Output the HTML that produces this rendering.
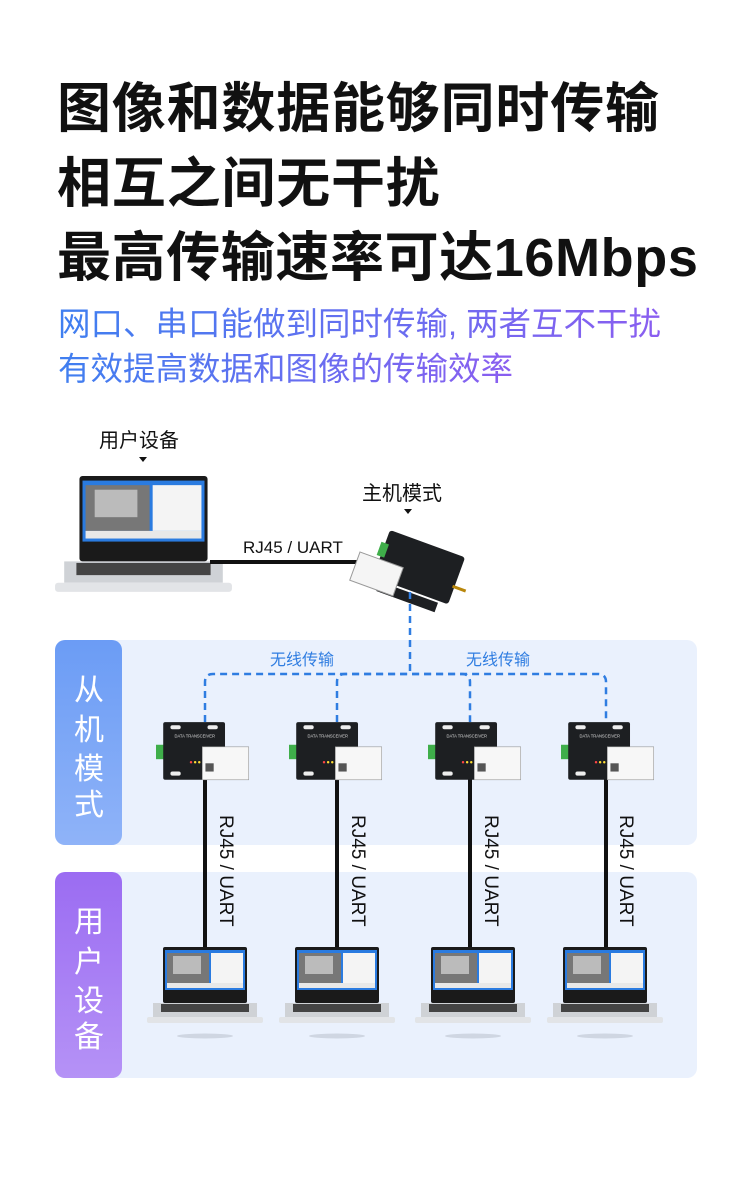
<!DOCTYPE html>
<html><head><meta charset="utf-8"><style>
body{margin:0;width:750px;height:1186px;background:#fff;position:relative;overflow:hidden;font-family:"Liberation Sans","Noto Sans CJK SC",sans-serif}
.t{position:absolute;left:57px;font-weight:bold;font-size:54px;color:#111;white-space:nowrap}
.s{position:absolute;left:58px;font-size:32.5px;white-space:nowrap;background:linear-gradient(90deg,#3f7ff0,#8a5ef0);-webkit-background-clip:text;color:transparent}
svg{position:absolute;left:0;top:0}
</style></head><body>
<div class="t" style="top:64px;letter-spacing:0.8px">图像和数据能够同时传输</div>
<div class="t" style="top:139px;letter-spacing:0.8px">相互之间无干扰</div>
<div class="t" style="top:213px;letter-spacing:0.6px">最高传输速率可达16Mbps</div>
<div class="s" style="top:298px">网口、串口能做到同时传输, 两者互不干扰</div>
<div class="s" style="top:343px">有效提高数据和图像的传输效率</div>
<svg width="750" height="1186" viewBox="0 0 750 1186" font-family="Liberation Sans, Noto Sans CJK SC, sans-serif">
<defs>
<linearGradient id="gb" x1="0" y1="0" x2="0" y2="1"><stop offset="0" stop-color="#6b9cf5"/><stop offset="1" stop-color="#8fb3f8"/></linearGradient>
<linearGradient id="gp" x1="0" y1="0" x2="0" y2="1"><stop offset="0" stop-color="#9b6cf2"/><stop offset="1" stop-color="#b592f6"/></linearGradient>
<symbol id="lap" viewBox="0 0 116 92">
<rect x="16" y="0" width="84" height="56" rx="2" fill="#1a1a1a"/>
<rect x="18" y="3" width="80" height="40" fill="#2a7be0"/>
<rect x="20" y="6" width="42" height="30" fill="#777"/>
<rect x="26" y="9" width="28" height="18" fill="#bbb"/>
<rect x="64" y="6" width="32" height="30" fill="#f4f4f4"/>
<rect x="20" y="36" width="76" height="5" fill="#e8e8e8"/>
<rect x="6" y="56" width="104" height="14" fill="#cfd2d6"/>
<rect x="14" y="57" width="88" height="8" fill="#444"/>
<rect x="0" y="70" width="116" height="6" rx="2" fill="#e2e4e7"/>
<ellipse cx="58" cy="89" rx="28" ry="2.5" fill="#cfd6e2"/>
</symbol>
<symbol id="lap0" viewBox="0 0 116 80">
<rect x="16" y="0" width="84" height="56" rx="2" fill="#1a1a1a"/>
<rect x="18" y="3" width="80" height="40" fill="#2a7be0"/>
<rect x="20" y="6" width="42" height="30" fill="#777"/>
<rect x="26" y="9" width="28" height="18" fill="#bbb"/>
<rect x="64" y="6" width="32" height="30" fill="#f4f4f4"/>
<rect x="20" y="36" width="76" height="5" fill="#e8e8e8"/>
<rect x="6" y="56" width="104" height="14" fill="#cfd2d6"/>
<rect x="14" y="57" width="88" height="8" fill="#444"/>
<rect x="0" y="70" width="116" height="6" rx="2" fill="#e2e4e7"/>
</symbol>
<symbol id="dev" viewBox="0 0 100 60">
<rect x="0" y="22" width="8" height="14" fill="#3fae4a"/>
<rect x="7" y="0" width="60" height="56" rx="2" fill="#1d1f22"/>
<rect x="14" y="3" width="10" height="4" rx="2" fill="#eee"/>
<rect x="50" y="3" width="10" height="4" rx="2" fill="#eee"/>
<rect x="14" y="48" width="10" height="4" rx="2" fill="#eee"/>
<text x="18" y="15" font-size="4" fill="#ddd">DATA TRANSCEIVER</text>
<circle cx="34" cy="39" r="1.2" fill="#f44"/><circle cx="38" cy="39" r="1.2" fill="#fd3"/><circle cx="42" cy="39" r="1.2" fill="#fd3"/>
<rect x="45" y="24" width="45" height="32" fill="#f7f7f7" stroke="#999" stroke-width=".6"/>
<rect x="48" y="40" width="8" height="8" fill="#555"/>
</symbol>
</defs>
<rect x="55" y="640" width="642" height="205" rx="10" fill="#eaf1fd"/>
<rect x="55" y="872" width="642" height="206" rx="10" fill="#eaf1fd"/>
<rect x="55" y="640" width="67" height="205" rx="10" fill="url(#gb)"/>
<rect x="55" y="872" width="67" height="206" rx="10" fill="url(#gp)"/>
<g fill="#fff" font-size="30" text-anchor="middle">
<text x="89" y="700">从</text><text x="89" y="740">机</text><text x="89" y="779">模</text><text x="89" y="815">式</text>
<text x="89" y="932">用</text><text x="89" y="972">户</text><text x="89" y="1011">设</text><text x="89" y="1047">备</text>
</g>
<text x="99" y="447" font-size="20" fill="#111">用户设备</text>
<path d="M139 457h8l-4 5z" fill="#111"/>
<text x="362" y="500" font-size="20" fill="#111">主机模式</text>
<path d="M404 509h8l-4 5z" fill="#111"/>
<use href="#lap0" x="55" y="476" width="177" height="122"/>
<line x1="210" y1="562" x2="362" y2="562" stroke="#111" stroke-width="4"/>
<text x="243" y="553" font-size="17" fill="#111">RJ45 / UART</text>
<g transform="translate(390,530) rotate(20)">
<rect x="0" y="0" width="80" height="50" rx="3" fill="#1d1f22"/>
<rect x="-4" y="14" width="8" height="14" fill="#3fae4a"/>
<rect x="78" y="30" width="14" height="3" fill="#b8860b"/>
<rect x="8" y="52" width="62" height="10" fill="#1d1f22"/>
</g>
<g transform="translate(360,552) rotate(20)"><rect x="0" y="0" width="46" height="30" fill="#f5f5f5" stroke="#999"/></g>
<g fill="none" stroke="#2f7de1" stroke-width="2.5" stroke-dasharray="7,5">
<path d="M410 592V674"/>
<path d="M205 722V682q0-8 8-8H598q8 0 8 8V722"/>
<path d="M337 722V682q0-8 8-8h117q8 0 8 8V722"/>
</g>
<g fill="#2f7de1" font-size="16"><text x="270" y="665">无线传输</text><text x="466" y="665">无线传输</text></g>
<g stroke="#111" stroke-width="4">
<line x1="205" y1="776" x2="205" y2="948"/><line x1="337" y1="776" x2="337" y2="948"/>
<line x1="470" y1="776" x2="470" y2="948"/><line x1="606" y1="776" x2="606" y2="948"/>
</g>
<g font-size="19" fill="#111">
<text transform="translate(220,815) rotate(90)">RJ45 / UART</text>
<text transform="translate(352,815) rotate(90)">RJ45 / UART</text>
<text transform="translate(485,815) rotate(90)">RJ45 / UART</text>
<text transform="translate(620,815) rotate(90)">RJ45 / UART</text>
</g>
<use href="#dev" x="156" y="722" width="103" height="62"/>
<use href="#dev" x="289" y="722" width="103" height="62"/>
<use href="#dev" x="428" y="722" width="103" height="62"/>
<use href="#dev" x="561" y="722" width="103" height="62"/>
<use href="#lap" x="147" y="947" width="116" height="92"/>
<use href="#lap" x="279" y="947" width="116" height="92"/>
<use href="#lap" x="415" y="947" width="116" height="92"/>
<use href="#lap" x="547" y="947" width="116" height="92"/>
</svg>
</body></html>
